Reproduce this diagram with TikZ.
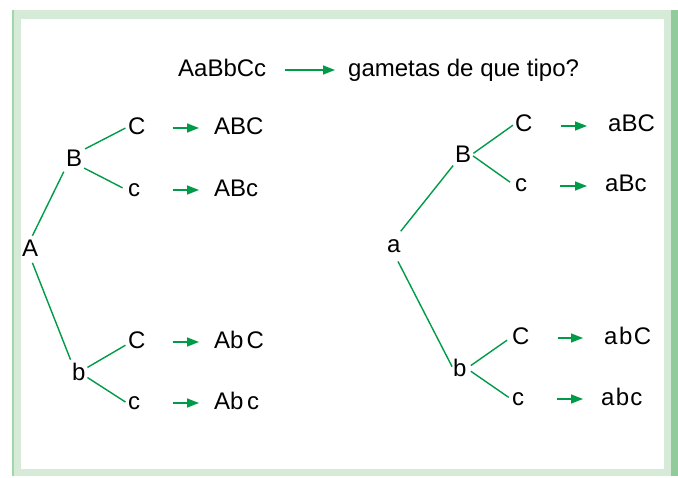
\documentclass[tikz,border=0pt]{standalone}
\usepackage{fontspec}
\setmainfont{Liberation Sans}
\usetikzlibrary{arrows.meta}
\definecolor{leafgreen}{RGB}{0,155,72}
\definecolor{framelight}{RGB}{213,234,215}
\definecolor{framedark}{RGB}{145,203,155}
\definecolor{frameline}{RGB}{160,214,170}
\begin{document}
\begin{tikzpicture}[x=1pt,y=-1pt,
  lbl/.style={font=\fontsize{24}{28}\selectfont, inner sep=0pt, anchor=base west},
  branch/.style={draw=leafgreen, line width=1.4pt},
  toarrow/.style={draw=leafgreen, line width=1.6pt,
    -{Triangle[length=12pt,width=9pt]}}]
  \useasboundingbox (0,0) rectangle (678,478);
  % frame
  \fill[framelight] (12,10) rectangle (671,476);
  \fill[white] (21,19) rectangle (664,469);
  \fill[framedark] (671,10) rectangle (678,476);
  \fill[frameline] (12,10) rectangle (14,476);

  % question line
  \node[lbl] (geno) at (178,77) {AaBbCc};
  \node[lbl] (quest) at (348,77) {gametas de que tipo?};
  \draw[toarrow] ([xshift=19pt,yshift=7pt]geno.base east) -- ([xshift=-13pt,yshift=7pt]quest.base west);

  % tree for A
  \node[lbl] (A) at (22,257) {A};
  \node[lbl] (AB) at (66,167) {B};
  \node[lbl] (ABC1) at (128,135) {C};
  \node[lbl] (ABc1) at (128,197) {c};
  \node[lbl] (Ab) at (72,381) {b};
  \node[lbl] (AbC1) at (128,349) {C};
  \node[lbl] (Abc1) at (128,410) {c};
  \node[lbl] (gABC) at (214,135) {ABC};
  \node[lbl] (gABc) at (214,197) {ABc};
  \node[lbl] (gAbC) at (214,349) {Ab\hspace{3pt}C};
  \node[lbl] (gAbc) at (214,410) {Ab\hspace{3.5pt}c};

  \draw[branch, shorten <=5pt, shorten >=5pt] (A.north) -- (AB.south west);
  \draw[branch, shorten <=3pt, shorten >=3pt] (AB.north east) -- (ABC1.west);
  \draw[branch, shorten <=2pt, shorten >=6pt] (AB.south east) -- (ABc1.west);
  \draw[branch, shorten <=6pt, shorten >=4pt] (A.south) -- (Ab.north west);
  \draw[branch, shorten <=2pt, shorten >=3pt] ([yshift=4pt]Ab.east) -- ([yshift=-3pt]AbC1.west);
  \draw[branch, shorten <=2pt, shorten >=3pt] ([yshift=-4pt]Ab.east) -- (Abc1.west);

  \draw[toarrow] ([xshift=27pt,yshift=7pt]ABC1.base east) -- ([xshift=-15pt,yshift=7pt]gABC.base west);
  \draw[toarrow] ([xshift=33pt,yshift=7pt]ABc1.base east) -- ([xshift=-15pt,yshift=7pt]gABc.base west);
  \draw[toarrow] ([xshift=27pt,yshift=7pt]AbC1.base east) -- ([xshift=-15pt,yshift=7pt]gAbC.base west);
  \draw[toarrow] ([xshift=33pt,yshift=7pt]Abc1.base east) -- ([xshift=-15pt,yshift=7pt]gAbc.base west);

  % tree for a
  \node[lbl] (a) at (387,253) {a};
  \node[lbl] (aB) at (455,163) {B};
  \node[lbl] (aBC1) at (515,132) {C};
  \node[lbl] (aBc1) at (515,192) {c};
  \node[lbl] (ab) at (453,377) {b};
  \node[lbl] (abC1) at (512,345) {C};
  \node[lbl] (abc1) at (512,406) {c};
  \node[lbl] (gaBC) at (608,132) {aBC};
  \node[lbl] (gaBc) at (605,192) {aBc};
  \node[lbl] (gabC) at (604,345) {a\hspace{1.5pt}b\hspace{1.5pt}C};
  \node[lbl] (gabc) at (601,406) {a\hspace{1.3pt}b\hspace{1.3pt}c};

  \draw[branch, shorten <=11pt, shorten >=3pt] (a.north) -- (aB.south west);
  \draw[branch, shorten <=2.5pt, shorten >=2.5pt] (aB.east) -- (aBC1.west);
  \draw[branch, shorten <=2pt, shorten >=6pt] (aB.east) -- (aBc1.west);
  \draw[branch, shorten <=9pt, shorten >=2pt] (a.south) -- (ab.west);
  \draw[branch, shorten <=5pt, shorten >=6pt] (ab.east) -- (abC1.west);
  \draw[branch, shorten <=5pt, shorten >=4pt] (ab.east) -- (abc1.west);

  \draw[toarrow] ([xshift=28pt,yshift=6pt]aBC1.base east) -- ([xshift=-21pt,yshift=6pt]gaBC.base west);
  \draw[toarrow] ([xshift=33pt,yshift=6pt]aBc1.base east) -- ([xshift=-18pt,yshift=6pt]gaBc.base west);
  \draw[toarrow] ([xshift=28pt,yshift=7pt]abC1.base east) -- ([xshift=-21pt,yshift=7pt]gabC.base west);
  \draw[toarrow] ([xshift=33pt,yshift=7pt]abc1.base east) -- ([xshift=-18pt,yshift=7pt]gabc.base west);
\end{tikzpicture}
\end{document}
